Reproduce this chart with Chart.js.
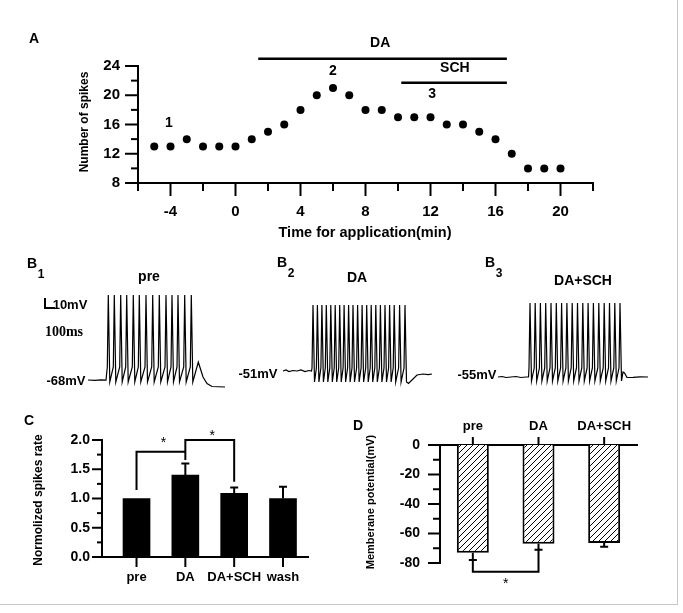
<!DOCTYPE html>
<html>
<head>
<meta charset="utf-8">
<title>DA and SCH spike figure</title>
<script src="https://cdn.jsdelivr.net/npm/chart.js@4.4.1/dist/chart.umd.min.js"></script>
<style>
  body { margin: 0; background: #fff; }
  #fig { position: relative; width: 683px; height: 613px; overflow: hidden; background: #fff;
         font-family: Arial, "Liberation Sans", sans-serif; font-weight: bold; color: #000; }
  #fig canvas { position: absolute; }
  .t { position: absolute; white-space: nowrap; line-height: 1; transform: translate(-50%, -50%); }
  .r { transform: translate(-50%, -50%) rotate(-90deg); }
  .serif { font-family: "Liberation Serif", "Times New Roman", serif; }
  .edge { position: absolute; background: #c8c8c8; }
</style>
</head>
<body>
<div id="fig">
  <div class="edge" style="left:677px;top:0;width:1px;height:605px"></div>
  <div class="edge" style="left:0;top:604px;width:678px;height:1px"></div>

  <canvas id="chartA" width="600" height="210" style="left:20px;top:20px"></canvas>
  <canvas id="traceB1" width="220" height="115" style="left:20px;top:285px"></canvas>
  <canvas id="traceB2" width="210" height="115" style="left:240px;top:285px"></canvas>
  <canvas id="traceB3" width="220" height="115" style="left:450px;top:285px"></canvas>
  <canvas id="chartC" width="320" height="190" style="left:20px;top:410px"></canvas>
  <canvas id="chartD" width="330" height="190" style="left:340px;top:410px"></canvas>

  <div class="t" style="left:34px;top:38px;font-size:14px">A</div>
  <div class="t r" style="left:84px;top:122px;font-size:12px">Number of spikes</div>
  <div class="t" style="left:365px;top:232px;font-size:14.5px">Time for application(min)</div>

  <div class="t" style="left:32px;top:263px;font-size:14px">B</div>
  <div class="t" style="left:41px;top:274px;font-size:12px">1</div>
  <div class="t" style="left:282px;top:262px;font-size:14px">B</div>
  <div class="t" style="left:291px;top:273px;font-size:12px">2</div>
  <div class="t" style="left:490px;top:262px;font-size:14px">B</div>
  <div class="t" style="left:499px;top:273px;font-size:12px">3</div>
  <div class="t" style="left:149px;top:276px;font-size:14px">pre</div>
  <div class="t" style="left:357px;top:277px;font-size:14px">DA</div>
  <div class="t" style="left:583px;top:280px;font-size:14px">DA+SCH</div>
  <div class="t" style="left:70px;top:304px;font-size:13px">10mV</div>
  <div class="t serif" style="left:64px;top:332px;font-size:14px">100ms</div>
  <div class="t" style="left:66px;top:380px;font-size:13px">-68mV</div>
  <div class="t" style="left:258px;top:373px;font-size:13px">-51mV</div>
  <div class="t" style="left:477px;top:374px;font-size:13px">-55mV</div>

  <div class="t" style="left:29px;top:420px;font-size:14px">C</div>
  <div class="t r" style="left:38px;top:500px;font-size:12px">Normolized spikes rate</div>
  <div class="t" style="left:358px;top:425px;font-size:14px">D</div>
  <div class="t r" style="left:370px;top:502px;font-size:11px">Memberane potential(mV)</div>
</div>
<script>
// ---- A: spikes per minute during drug application
const timeMin = [-5, -4, -3, -2, -1, 0, 1, 2, 3, 4, 5, 6, 7, 8, 9, 10, 11, 12, 13, 14, 15, 16, 17, 18, 19, 20];
const spikeCount = [13, 13, 14, 13, 13, 13, 14, 15, 16, 18, 20, 21, 20, 18, 18, 17, 17, 17, 16, 16, 15, 14, 12, 10, 10, 10];
const aXTicks = [-4, 0, 4, 8, 12, 16, 20];
const aXMinor = [-6, -2, 2, 6, 10, 14, 18, 22];
const aYTicks = [8, 12, 16, 20, 24];
const aYMinor = [10, 14, 18, 22];
const drugNames = ['DA', 'SCH'];
const drugStart = [1.4, 10.2];
const drugEnd = [16.7, 16.7];

// ---- B: example traces (ms, mV)
const scaleBarMV = 10;
const scaleBarMS = 100;
const preLead = [[-40, -68], [30, -68.3], [90, -67.8], [140, -68.2]];
const preSpikes = [163, 223, 287, 347, 413, 473, 540, 607, 673, 740, 800, 860, 927, 993];
const preTail = [[1063, -50], [1085, -57], [1110, -65], [1150, -71.5], [1200, -74.5], [1330, -75]];
const daLead = [[0, -51], [30, -50], [60, -51.5], [100, -50.5], [140, -51], [180, -50], [220, -51.5], [260, -50.5], [285, -51]];
const daSpikes = [300, 344, 389, 433, 478, 522, 567, 611, 656, 700, 746, 791, 837, 882, 928, 974, 1020, 1066, 1112, 1166, 1220];
const daTail = [[1255, -63.5], [1290, -60], [1340, -55], [1400, -54], [1450, -54.6], [1490, -54]];
const schLead = [[0, -55], [40, -54.5], [80, -55.5], [130, -55], [180, -54.5], [230, -55.5], [280, -55], [305, -55]];
const schSpikes = [320, 372, 424, 477, 530, 583, 636, 689, 742, 795, 848, 901, 954, 1008, 1062, 1115, 1168, 1220];
const schTail = [[1250, -50], [1265, -51], [1290, -55.5], [1350, -55.3], [1420, -54.8], [1500, -55]];

// ---- C: normalized spike rate
const groupsC = ['pre', 'DA', 'DA+SCH', 'wash'];
const rateC = [1.0, 1.4, 1.09, 1.0];
const semC = [0, 0.2, 0.1, 0.2];
const cYTicks = [0, 0.5, 1.0, 1.5, 2.0];
const cYMinor = [0.25, 0.75, 1.25, 1.75];

// ---- D: membrane potential
const groupsD = ['pre', 'DA', 'DA+SCH'];
const vmD = [-73, -67, -66.5];
const semD = [5, 4, 2.5];
const dYTicks = [-80, -60, -40, -20, 0];
const dYMinor = [-70, -50, -30, -10];

const FONT = 'Arial, "Liberation Sans", sans-serif';

function linAxis(min, max, major, minor, size, pad, box, fmt) {
  return {
    type: 'linear', min: min, max: max, offset: false,
    grid: { display: false, drawTicks: false },
    border: { display: true, color: '#000', width: 2 },
    ticks: {
      color: '#000', padding: pad, autoSkip: false, maxRotation: 0,
      font: { family: FONT, size: size, weight: 'bold' },
      callback: v => major.includes(v) ? fmt(v) : ''
    },
    afterBuildTicks: s => { s.ticks = major.concat(minor).sort((a, b) => a - b).map(v => ({ value: v })); },
    afterFit: s => {
      if (s.isHorizontal()) s.height = box; else s.width = box;
      s.paddingLeft = s.paddingRight = s.paddingTop = s.paddingBottom = 0;
    }
  };
}

// tick marks with two lengths
function tickMarks(axes) {
  return {
    id: 'tickMarks',
    afterDraw(chart) {
      const ctx = chart.ctx;
      ctx.save();
      ctx.strokeStyle = '#000';
      ctx.lineWidth = 2;
      axes.forEach(ax => {
        const s = chart.scales[ax.id];
        const put = (v, len) => {
          const p = s.getPixelForValue(v);
          ctx.beginPath();
          if (s.position === 'left') { ctx.moveTo(s.right, p); ctx.lineTo(s.right - len, p); }
          else if (s.position === 'top') { ctx.moveTo(p, s.bottom); ctx.lineTo(p, s.bottom - len); }
          else { ctx.moveTo(p, s.top); ctx.lineTo(p, s.top + len); }
          ctx.stroke();
        };
        ax.major.forEach(v => put(v, ax.majorLen));
        (ax.minor || []).forEach(v => put(v, ax.minorLen));
      });
      ctx.restore();
    }
  };
}

function base(padding) {
  return {
    responsive: false, animation: false, events: [],
    layout: { padding: padding },
    plugins: { legend: { display: false }, tooltip: { enabled: false } }
  };
}

function linePath(ctx, x, y, pts) {
  ctx.beginPath();
  pts.forEach((p, k) => {
    const X = x.getPixelForValue(p[0]), Y = y.getPixelForValue(p[1]);
    if (k) ctx.lineTo(X, Y); else ctx.moveTo(X, Y);
  });
  ctx.stroke();
}

function star(ctx, px, py) {
  ctx.font = '14px ' + FONT;
  ctx.fillStyle = '#000';
  ctx.textAlign = 'center';
  ctx.textBaseline = 'alphabetic';
  ctx.fillText('*', px, py + 8);
}

// ---------- A
const annotA = {
  id: 'annotA',
  afterDraw(chart) {
    const { ctx, scales: { x, y } } = chart;
    ctx.save();
    ctx.strokeStyle = '#000';
    ctx.lineWidth = 2.5;
    const lineY = [25, 21.7];
    const textPos = [[8.9, 27.1], [13.5, 23.7]];
    ctx.font = 'bold 14px ' + FONT;
    ctx.fillStyle = '#000';
    ctx.textAlign = 'center';
    ctx.textBaseline = 'middle';
    drugNames.forEach((n, i) => {
      linePath(ctx, x, y, [[drugStart[i], lineY[i]], [drugEnd[i], lineY[i]]]);
      ctx.fillText(n, x.getPixelForValue(textPos[i][0]), y.getPixelForValue(textPos[i][1]));
    });
    [['1', -4.1, 16.2], ['2', 6, 23.3], ['3', 12.1, 20.2]].forEach(m => {
      ctx.fillText(m[0], x.getPixelForValue(m[1]), y.getPixelForValue(m[2]));
    });
    ctx.restore();
  }
};

new Chart(document.getElementById('chartA'), {
  type: 'scatter',
  data: { datasets: [{
    data: timeMin.map((t, i) => ({ x: t, y: spikeCount[i] })),
    pointRadius: 4, pointBackgroundColor: '#000', pointBorderWidth: 0, showLine: false
  }] },
  options: Object.assign(base({ top: 46, right: 27, left: 0, bottom: 0 }), {
    scales: {
      x: linAxis(-6, 22, aXTicks, aXMinor, 15, 20, 47, String),
      y: linAxis(8, 24, aYTicks, aYMinor, 15, 18, 118, String)
    }
  }),
  plugins: [tickMarks([
    { id: 'x', major: aXTicks, minor: aXMinor, majorLen: 13, minorLen: 8 },
    { id: 'y', major: aYTicks, minor: aYMinor, majorLen: 13, minorLen: 7 }
  ]), annotA]
});

// ---------- B traces
function spikeTrain(lead, spikes, peak, thr, ahp, tail) {
  const pts = lead.map(p => ({ x: p[0], y: p[1] }));
  spikes.forEach(t => {
    pts.push({ x: t - 10, y: thr }, { x: t, y: peak }, { x: t + 15, y: ahp });
  });
  tail.forEach(p => pts.push({ x: p[0], y: p[1] }));
  return pts;
}

function traceChart(id, pts, xr, yr, extra) {
  return new Chart(document.getElementById(id), {
    type: 'line',
    data: { datasets: [{ data: pts, borderColor: '#000', borderWidth: 1.2, pointRadius: 0, tension: 0, fill: false }] },
    options: Object.assign(base(0), {
      scales: {
        x: { type: 'linear', min: xr[0], max: xr[1], display: false },
        y: { type: 'linear', min: yr[0], max: yr[1], display: false }
      }
    }),
    plugins: extra ? [extra] : []
  });
}

const scaleBar = {
  id: 'scaleBar',
  afterDraw(chart) {
    const { ctx, scales: { x, y } } = chart;
    ctx.save();
    ctx.strokeStyle = '#000';
    ctx.lineWidth = 2;
    linePath(ctx, x, y, [[-470, 4 + scaleBarMV], [-470, 4], [-470 + scaleBarMS, 4]]);
    ctx.restore();
  }
};

traceChart('traceB1', spikeTrain(preLead, preSpikes, 17, -55, -70, preTail), [-720, 1480], [-88, 27], scaleBar);
traceChart('traceB2', spikeTrain(daLead, daSpikes, 15, -48, -62, daTail), [-430, 1670], [-80, 35]);
traceChart('traceB3', spikeTrain(schLead, schSpikes, 19, -46, -59, schTail), [-480, 1720], [-78, 37]);

// ---------- C
const annotC = {
  id: 'annotC',
  afterDraw(chart) {
    const { ctx, scales: { x, y } } = chart;
    ctx.save();
    ctx.strokeStyle = '#000';
    ctx.lineWidth = 2;
    ctx.lineJoin = 'miter';
    rateC.forEach((v, i) => {
      if (!semC[i]) return;
      const px = x.getPixelForValue(i + 1), top = y.getPixelForValue(v + semC[i]);
      ctx.beginPath();
      ctx.moveTo(px, y.getPixelForValue(v)); ctx.lineTo(px, top);
      ctx.moveTo(px - 4, top); ctx.lineTo(px + 4, top);
      ctx.stroke();
    });
    linePath(ctx, x, y, [[1, 1.145], [1, 1.8], [2, 1.8]]);
    linePath(ctx, x, y, [[2, 1.658], [2, 2.0], [3, 2.0], [3, 1.287]]);
    star(ctx, x.getPixelForValue(1.55), y.getPixelForValue(2.01));
    star(ctx, x.getPixelForValue(2.55), y.getPixelForValue(2.145));
    ctx.restore();
  }
};

const cXAxis = linAxis(0.293, 4.512, [1, 2, 3, 4], [], 13, 13, 43, v => groupsC[v - 1]);
new Chart(document.getElementById('chartC'), {
  type: 'bar',
  data: { datasets: [{
    data: groupsC.map((g, i) => ({ x: i + 1, y: rateC[i] })),
    backgroundColor: '#000', borderWidth: 0, barThickness: 27
  }] },
  options: Object.assign(base({ top: 30, right: 32, left: 0, bottom: 0 }), {
    scales: {
      x: cXAxis,
      y: linAxis(0, 2, cYTicks, cYMinor, 14, 12, 82, v => v.toFixed(1))
    }
  }),
  plugins: [tickMarks([
    { id: 'x', major: [1, 2, 3, 4], majorLen: 10 },
    { id: 'y', major: cYTicks, minor: cYMinor, majorLen: 10, minorLen: 5 }
  ]), annotC]
});

// ---------- D
function hatch() {
  const c = document.createElement('canvas');
  c.width = 6; c.height = 6;
  const g = c.getContext('2d');
  g.fillStyle = '#fff';
  g.fillRect(0, 0, 6, 6);
  g.strokeStyle = '#000';
  g.lineWidth = 1;
  g.beginPath();
  g.moveTo(0, 6); g.lineTo(6, 0);
  g.moveTo(-1, 1); g.lineTo(1, -1);
  g.moveTo(5, 7); g.lineTo(7, 5);
  g.stroke();
  return g.createPattern(c, 'repeat');
}

const annotD = {
  id: 'annotD',
  afterDraw(chart) {
    const { ctx, scales: { x, y } } = chart;
    ctx.save();
    ctx.strokeStyle = '#000';
    ctx.lineWidth = 2;
    vmD.forEach((v, i) => {
      const px = x.getPixelForValue(i), bot = y.getPixelForValue(v - semD[i]);
      ctx.beginPath();
      ctx.moveTo(px, y.getPixelForValue(v)); ctx.lineTo(px, bot);
      ctx.moveTo(px - 4, bot); ctx.lineTo(px + 4, bot);
      ctx.stroke();
    });
    linePath(ctx, x, y, [[0, -78], [0, -86], [1, -86], [1, -71]]);
    star(ctx, x.getPixelForValue(0.5), y.getPixelForValue(-91.5));
    ctx.restore();
  }
};

new Chart(document.getElementById('chartD'), {
  type: 'bar',
  data: { labels: groupsD, datasets: [{
    data: vmD, backgroundColor: hatch(), borderColor: '#000', borderWidth: 2,
    barPercentage: 0.487, categoryPercentage: 1
  }] },
  options: Object.assign(base({ top: 0, right: 33, left: 0, bottom: 37 }), {
    scales: {
      x: {
        type: 'category', position: 'top', offset: true,
        grid: { display: false, drawTicks: false },
        border: { display: true, color: '#000', width: 2 },
        ticks: { color: '#000', padding: 11, maxRotation: 0, autoSkip: false, font: { family: FONT, size: 13, weight: 'bold' } },
        afterFit: s => { s.height = 35; s.paddingLeft = s.paddingRight = 0; }
      },
      y: linAxis(-80, 0, dYTicks, dYMinor, 14, 20, 100, String)
    }
  }),
  plugins: [tickMarks([
    { id: 'x', major: [0, 1, 2], majorLen: 8 },
    { id: 'y', major: dYTicks, minor: dYMinor, majorLen: 12, minorLen: 7 }
  ]), annotD]
});
</script>
</body>
</html>
